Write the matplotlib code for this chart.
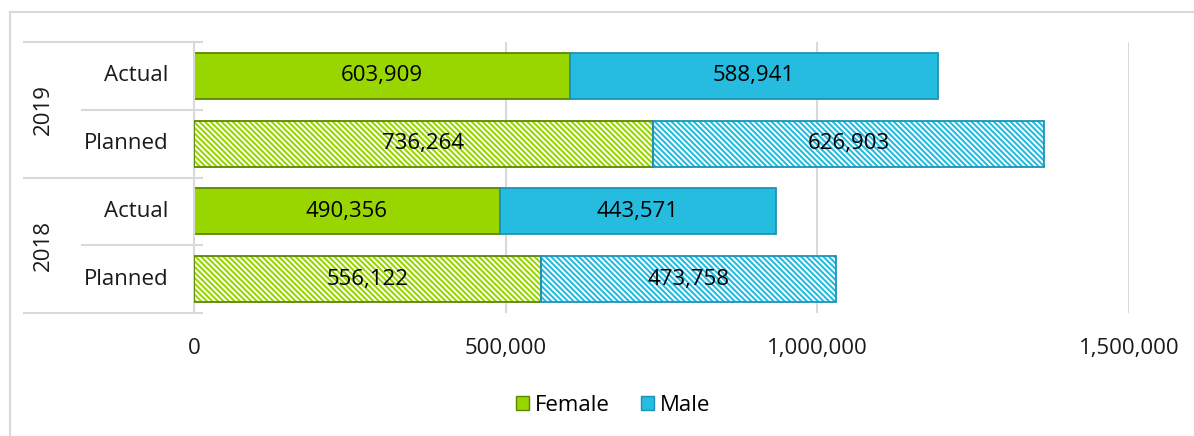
import matplotlib.pyplot as plt
from matplotlib.lines import Line2D
from matplotlib.patches import Patch
from matplotlib.ticker import FuncFormatter

plt.rcParams['font.family'] = ['Open Sans', 'DejaVu Sans']
plt.rcParams['hatch.linewidth'] = 1.5

## data
years = ['2019', '2018']
kinds = ['Actual', 'Planned']
female = [603909, 736264, 490356, 556122]   # 2019 A, 2019 P, 2018 A, 2018 P
male = [588941, 626903, 443571, 473758]
hatched = [False, True, False, True]
xticks = [0, 500000, 1000000, 1500000]

female_col = '#99d600'
female_edge = '#5a8700'
male_col = '#25bce0'
male_edge = '#1c93b6'
grid_col = '#d9d9d9'
fs = 16

W, H = 1194, 436
fig = plt.figure(figsize=(W / 100, H / 100), dpi=100)
ax = fig.add_axes([194 / W, 1 - 313 / H, (1129 - 194) / W, (313 - 42) / H])

ypos = [3, 2, 1, 0]
bh = 0.68
hatch = '\\' * 6
for i, y in enumerate(ypos):
    f, m = female[i], male[i]
    if hatched[i]:
        ax.barh(y, f, height=bh, color='white', edgecolor=female_col, hatch=hatch, lw=0, zorder=2)
        ax.barh(y, m, left=f, height=bh, color='white', edgecolor=male_col, hatch=hatch, lw=0, zorder=2)
        ax.barh(y, f, height=bh, facecolor='none', edgecolor=female_edge, lw=1.3, zorder=3)
        ax.barh(y, m, left=f, height=bh, facecolor='none', edgecolor=male_edge, lw=1.3, zorder=3)
    else:
        ax.barh(y, f, height=bh, color=female_col, edgecolor=female_edge, lw=1.3, zorder=2)
        ax.barh(y, m, left=f, height=bh, color=male_col, edgecolor=male_edge, lw=1.3, zorder=2)
    ax.text(f / 2, y, f'{f:,}', ha='center', va='center', fontsize=fs, color='black', zorder=4)
    ax.text(f + m / 2, y, f'{m:,}', ha='center', va='center', fontsize=fs, color='black', zorder=4)

ax.set_xlim(0, 1500000)
ax.set_ylim(-0.5, 3.5)
ax.set_xticks(xticks)
ax.xaxis.set_major_formatter(FuncFormatter(lambda v, p: f'{int(v):,}'))
ax.tick_params(axis='x', length=0, labelsize=fs, pad=18, colors='#1a1a1a')
ax.set_yticks([])
ax.grid(axis='x', color=grid_col, lw=1.5, zorder=0)
ax.set_axisbelow(True)
for s in ['top', 'right', 'bottom']:
    ax.spines[s].set_visible(False)
ax.spines['left'].set_color(grid_col)
ax.spines['left'].set_linewidth(1.5)

# multi-level category axis
tr = ax.get_yaxis_transform()
x_long = (24 - 194) / 935
x_short = (82 - 194) / 935
x_end = (202 - 194) / 935
for y in [3.5, 1.5, -0.5]:
    ax.add_line(Line2D([x_long, x_end], [y, y], transform=tr, color=grid_col, lw=1.5, clip_on=False))
for y in [2.5, 0.5]:
    ax.add_line(Line2D([x_short, x_end], [y, y], transform=tr, color=grid_col, lw=1.5, clip_on=False))
for i, y in enumerate(ypos):
    ax.text((168 - 194) / 935, y, kinds[i % 2], transform=tr, ha='right', va='center', fontsize=fs, color='#1a1a1a')
for j, yr in enumerate(years):
    ax.text((43 - 194) / 935, 2.5 - 2 * j, yr, transform=tr, ha='center', va='center', rotation=90, fontsize=fs, color='#1a1a1a')

# outer frame
fig.add_artist(Line2D([10 / W, 10 / W], [0, 1 - 12 / H], color=grid_col, lw=1.5))
fig.add_artist(Line2D([10 / W, 1], [1 - 12 / H, 1 - 12 / H], color=grid_col, lw=1.5))

handles = [Patch(facecolor=female_col, edgecolor=female_edge, label='Female'),
           Patch(facecolor=male_col, edgecolor=male_edge, label='Male')]
fig.legend(handles=handles, loc='center', bbox_to_anchor=(613 / W, 1 - 405 / H), ncol=2, frameon=False,
           fontsize=fs, handlelength=0.6, handleheight=0.6, handletextpad=0.25, columnspacing=1.4)

fig.savefig('out.png', dpi=100)
